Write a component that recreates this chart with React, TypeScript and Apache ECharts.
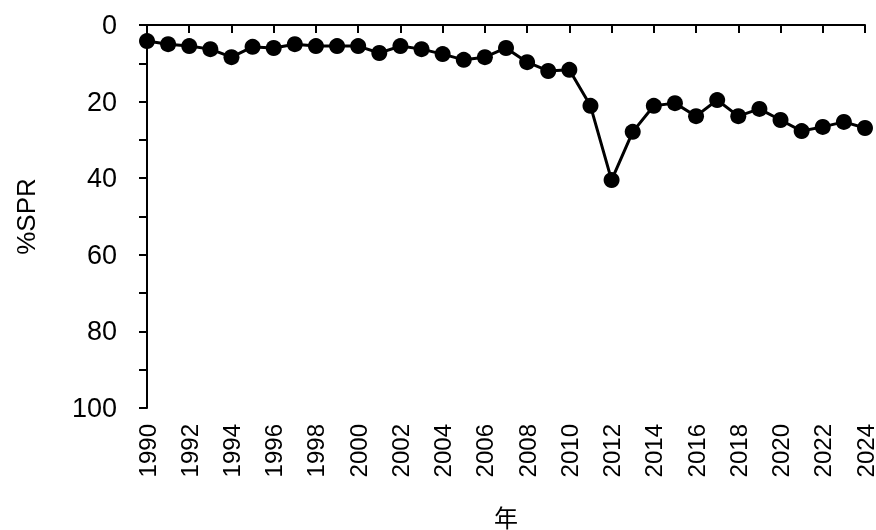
import { useEffect, useRef } from "react"
import * as echarts from "echarts"

const years: string[] = []
for (let y = 1990; y <= 2024; y++) years.push(String(y))

const sprValues = [
  4.2, 5, 5.5, 6.3, 8.4, 5.7, 6, 5, 5.5, 5.5, 5.5, 7.3, 5.5, 6.3, 7.6, 9.1, 8.4, 6,
  9.7, 12, 11.7, 21.1, 40.5, 27.9, 21.1, 20.4, 23.8, 19.6, 23.8, 21.9, 24.8, 27.7,
  26.6, 25.3, 26.9,
]

export default function App() {
  const chartRef = useRef<HTMLDivElement>(null)

  useEffect(() => {
    if (!chartRef.current) return
    const chart = echarts.init(chartRef.current, undefined, { renderer: "svg" })
    const font = "Liberation Sans, Arial, sans-serif"
    chart.setOption({
      animation: false,
      grid: { left: 147, right: 11, top: 25, bottom: 122, outerBoundsMode: "none" },
      xAxis: {
        type: "category",
        data: years,
        boundaryGap: false,
        name: "年",
        nameLocation: "middle",
        nameGap: 96,
        nameTextStyle: { fontSize: 24, color: "#000", fontFamily: "Noto Sans CJK JP" },
        axisLine: { lineStyle: { color: "#000", width: 2 } },
        axisTick: { show: true, interval: 1, length: 8, lineStyle: { color: "#000", width: 2 } },
        axisLabel: {
          interval: 1,
          rotate: 90,
          fontSize: 24,
          color: "#000",
          fontFamily: font,
          margin: 16,
        },
        splitLine: { show: false },
      },
      yAxis: {
        type: "value",
        inverse: true,
        min: 0,
        max: 100,
        interval: 20,
        name: "%SPR",
        nameLocation: "middle",
        nameGap: 108,
        nameTextStyle: { fontSize: 26, color: "#000", fontFamily: font },
        axisLine: { show: true, lineStyle: { color: "#000", width: 2 } },
        axisTick: { show: true, length: 8, lineStyle: { color: "#000", width: 2 } },
        minorTick: { show: true, splitNumber: 2, length: 8, lineStyle: { color: "#000", width: 2 } },
        axisLabel: { fontSize: 27, color: "#000", fontFamily: font, margin: 30 },
        splitLine: { show: false },
      },
      series: [
        {
          type: "line",
          data: sprValues,
          symbol: "circle",
          symbolSize: 16,
          showAllSymbol: true,
          lineStyle: { color: "#000", width: 3 },
          itemStyle: { color: "#000" },
        },
      ],
    })
    return () => chart.dispose()
  }, [])

  return (
    <div
      ref={chartRef}
      style={{ position: "fixed", left: 0, top: 0, width: 876, height: 530 }}
    />
  )
}
